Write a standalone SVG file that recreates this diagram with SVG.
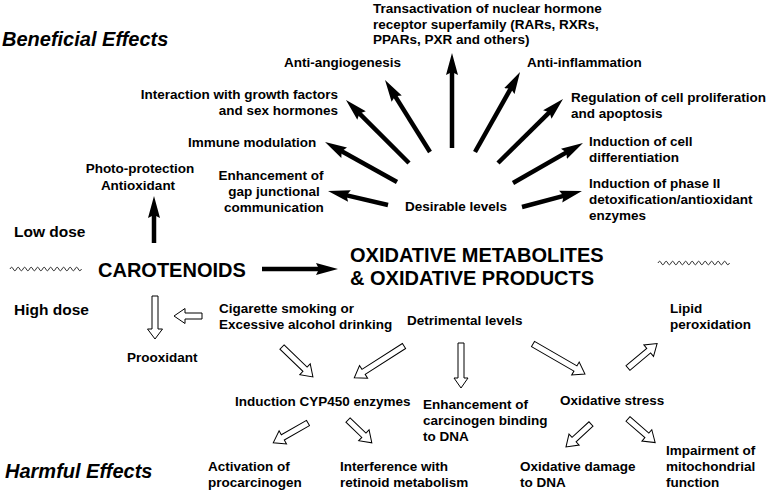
<svg xmlns="http://www.w3.org/2000/svg" width="766" height="490" viewBox="0 0 766 490">
<defs>
<style>
text{font-family:"Liberation Sans",Arial,sans-serif;font-weight:bold;fill:#000;}
.t{font-size:13.5px;}
.big{font-size:20px;}
.dose{font-size:15.5px;}
.hdr{font-size:20px;font-style:italic;}
.mid{text-anchor:middle;}
.end{text-anchor:end;}
.fa{stroke:#000;stroke-width:4.5;fill:none;marker-end:url(#head);}
.ha{fill:#fff;stroke:#000;stroke-width:1;stroke-linejoin:miter;}
.wave{fill:none;stroke:#333;stroke-width:1;}
</style>
<marker id="head" markerUnits="userSpaceOnUse" markerWidth="24" markerHeight="14" refX="6" refY="7" orient="auto">
<path d="M0,1 L22,7 L0,13 L3,7 z" fill="#000"/>
</marker>
</defs>
<rect width="766" height="490" fill="#fff"/>

<g id="headers">
<text class="hdr" x="2" y="46">Beneficial Effects</text>
<text class="hdr" x="5" y="478">Harmful Effects</text>
<text class="dose" x="14" y="237">Low dose</text>
<text class="dose" x="14" y="315">High dose</text>
</g>

<g id="waves">
<path class="wave" d="M10,269 q1.625,-3.5 3.25,0 t3.25,0 t3.25,0 t3.25,0 t3.25,0 t3.25,0 t3.25,0 t3.25,0 t3.25,0 t3.25,0 t3.25,0 t3.25,0 t3.25,0 t3.25,0 t3.25,0 t3.25,0 t3.25,0 t3.25,0 t3.25,0 t3.25,0 t3.25,0 t3.25,0"/>
<path class="wave" d="M658,263 q1.625,-3.5 3.25,0 t3.25,0 t3.25,0 t3.25,0 t3.25,0 t3.25,0 t3.25,0 t3.25,0 t3.25,0 t3.25,0 t3.25,0 t3.25,0 t3.25,0 t3.25,0 t3.25,0 t3.25,0 t3.25,0 t3.25,0 t3.25,0 t3.25,0 t3.25,0 t3.25,0"/>
</g>

<g id="carotenoids"><text class="big" x="98" y="277">CAROTENOIDS</text></g>
<g id="oxidative-metabolites">
<text class="big" x="350" y="262">OXIDATIVE METABOLITES</text>
<text class="big" x="350" y="285">&amp; OXIDATIVE PRODUCTS</text>
</g>

<g id="desirable-levels"><text class="t" x="405" y="211">Desirable levels</text></g>
<g id="photo-protection">
<text class="t mid" x="140" y="173">Photo-protection</text>
<text class="t mid" x="138" y="190">Antioxidant</text>
</g>
<g id="gap-junction">
<text class="t mid" x="271" y="180">Enhancement of</text>
<text class="t mid" x="274" y="196">gap junctional</text>
<text class="t mid" x="274" y="212">communication</text>
</g>
<g id="immune"><text class="t" x="188" y="147">Immune modulation</text></g>
<g id="growth-factors">
<text class="t end" x="338" y="99">Interaction with growth factors</text>
<text class="t end" x="338" y="115">and sex hormones</text>
</g>
<g id="anti-angiogenesis"><text class="t" x="284" y="67">Anti-angiogenesis</text></g>
<g id="transactivation">
<text class="t" x="373" y="13">Transactivation of nuclear hormone</text>
<text class="t" x="373" y="28.5">receptor superfamily (RARs, RXRs,</text>
<text class="t" x="373" y="44">PPARs, PXR and others)</text>
</g>
<g id="anti-inflammation"><text class="t" x="527" y="67">Anti-inflammation</text></g>
<g id="regulation">
<text class="t" x="571" y="102">Regulation of cell proliferation</text>
<text class="t" x="571" y="118">and apoptosis</text>
</g>
<g id="differentiation">
<text class="t" x="589" y="146">Induction of cell</text>
<text class="t" x="589" y="162">differentiation</text>
</g>
<g id="phase2">
<text class="t" x="589" y="188">Induction of phase II</text>
<text class="t" x="589" y="204">detoxification/antioxidant</text>
<text class="t" x="589" y="220">enzymes</text>
</g>

<g id="prooxidant"><text class="t" x="127" y="362">Prooxidant</text></g>
<g id="smoking">
<text class="t" x="219" y="313">Cigarette smoking or</text>
<text class="t" x="219" y="329">Excessive alcohol drinking</text>
</g>
<g id="detrimental-levels"><text class="t" x="407" y="325">Detrimental levels</text></g>
<g id="lipid">
<text class="t" x="670" y="313">Lipid</text>
<text class="t" x="670" y="329">peroxidation</text>
</g>
<g id="cyp450"><text class="t" x="235" y="406">Induction CYP450 enzymes</text></g>
<g id="carcinogen-binding">
<text class="t" x="423" y="409">Enhancement of</text>
<text class="t" x="423" y="425">carcinogen binding</text>
<text class="t" x="423" y="441">to DNA</text>
</g>
<g id="oxidative-stress"><text class="t" x="560" y="405">Oxidative stress</text></g>
<g id="procarcinogen">
<text class="t" x="208" y="471">Activation of</text>
<text class="t" x="208" y="487">procarcinogen</text>
</g>
<g id="retinoid">
<text class="t" x="340" y="471">Interference with</text>
<text class="t" x="340" y="487">retinoid metabolism</text>
</g>
<g id="dna-damage">
<text class="t" x="520" y="471">Oxidative damage</text>
<text class="t" x="520" y="487">to DNA</text>
</g>
<g id="mitochondrial">
<text class="t" x="666" y="455">Impairment of</text>
<text class="t" x="666" y="471">mitochondrial</text>
<text class="t" x="666" y="487">function</text>
</g>

<g id="connectors">
<line class="fa" x1="262" y1="269" x2="322" y2="269"/>
<line class="fa" x1="154" y1="243" x2="154" y2="212"/>
<line class="fa" x1="388" y1="205" x2="343.6" y2="194.6"/>
<line class="fa" x1="397" y1="182" x2="339" y2="149.8"/>
<line class="fa" x1="409" y1="163" x2="357.3" y2="111.3"/>
<line class="fa" x1="430" y1="152" x2="393.5" y2="93.6"/>
<line class="fa" x1="452" y1="148" x2="452" y2="69"/>
<line class="fa" x1="475" y1="152" x2="512.2" y2="85.9"/>
<line class="fa" x1="498" y1="163" x2="551.6" y2="110.2"/>
<line class="fa" x1="513" y1="183" x2="569.1" y2="150.9"/>
<line class="fa" x1="522" y1="207" x2="566.5" y2="195.1"/>

<polygon class="ha" transform="translate(155,296) rotate(90)" points="0,-3 33,-3 33,-7.5 43,0 33,7.5 33,3 0,3"/>
<polygon class="ha" transform="translate(202,316) rotate(180)" points="0,-3 17,-3 17,-7.5 28,0 17,7.5 17,3 0,3"/>
<polygon class="ha" transform="translate(282,347) rotate(44)" points="0,-3 32,-3 32,-7.5 43,0 32,7.5 32,3 0,3"/>
<polygon class="ha" transform="translate(404,346) rotate(147.4)" points="0,-3 48,-3 48,-7.5 59,0 48,7.5 48,3 0,3"/>
<polygon class="ha" transform="translate(461,343) rotate(90)" points="0,-3 35,-3 35,-7 45,0 35,7 35,3 0,3"/>
<polygon class="ha" transform="translate(533,344) rotate(30)" points="0,-3 49,-3 49,-7.5 60,0 49,7.5 49,3 0,3"/>
<polygon class="ha" transform="translate(628,368) rotate(-40)" points="0,-3 27,-3 27,-7.5 38,0 27,7.5 27,3 0,3"/>
<polygon class="ha" transform="translate(308,423) rotate(150.3)" points="0,-3 29,-3 29,-7.5 40,0 29,7.5 29,3 0,3"/>
<polygon class="ha" transform="translate(348,420) rotate(43.8)" points="0,-3 22,-3 22,-7.5 33,0 22,7.5 22,3 0,3"/>
<polygon class="ha" transform="translate(591,424) rotate(137.4)" points="0,-3 23,-3 23,-7.5 34,0 23,7.5 23,3 0,3"/>
<polygon class="ha" transform="translate(628,419) rotate(41)" points="0,-3 25,-3 25,-7.5 36,0 25,7.5 25,3 0,3"/>
</g>
</svg>
